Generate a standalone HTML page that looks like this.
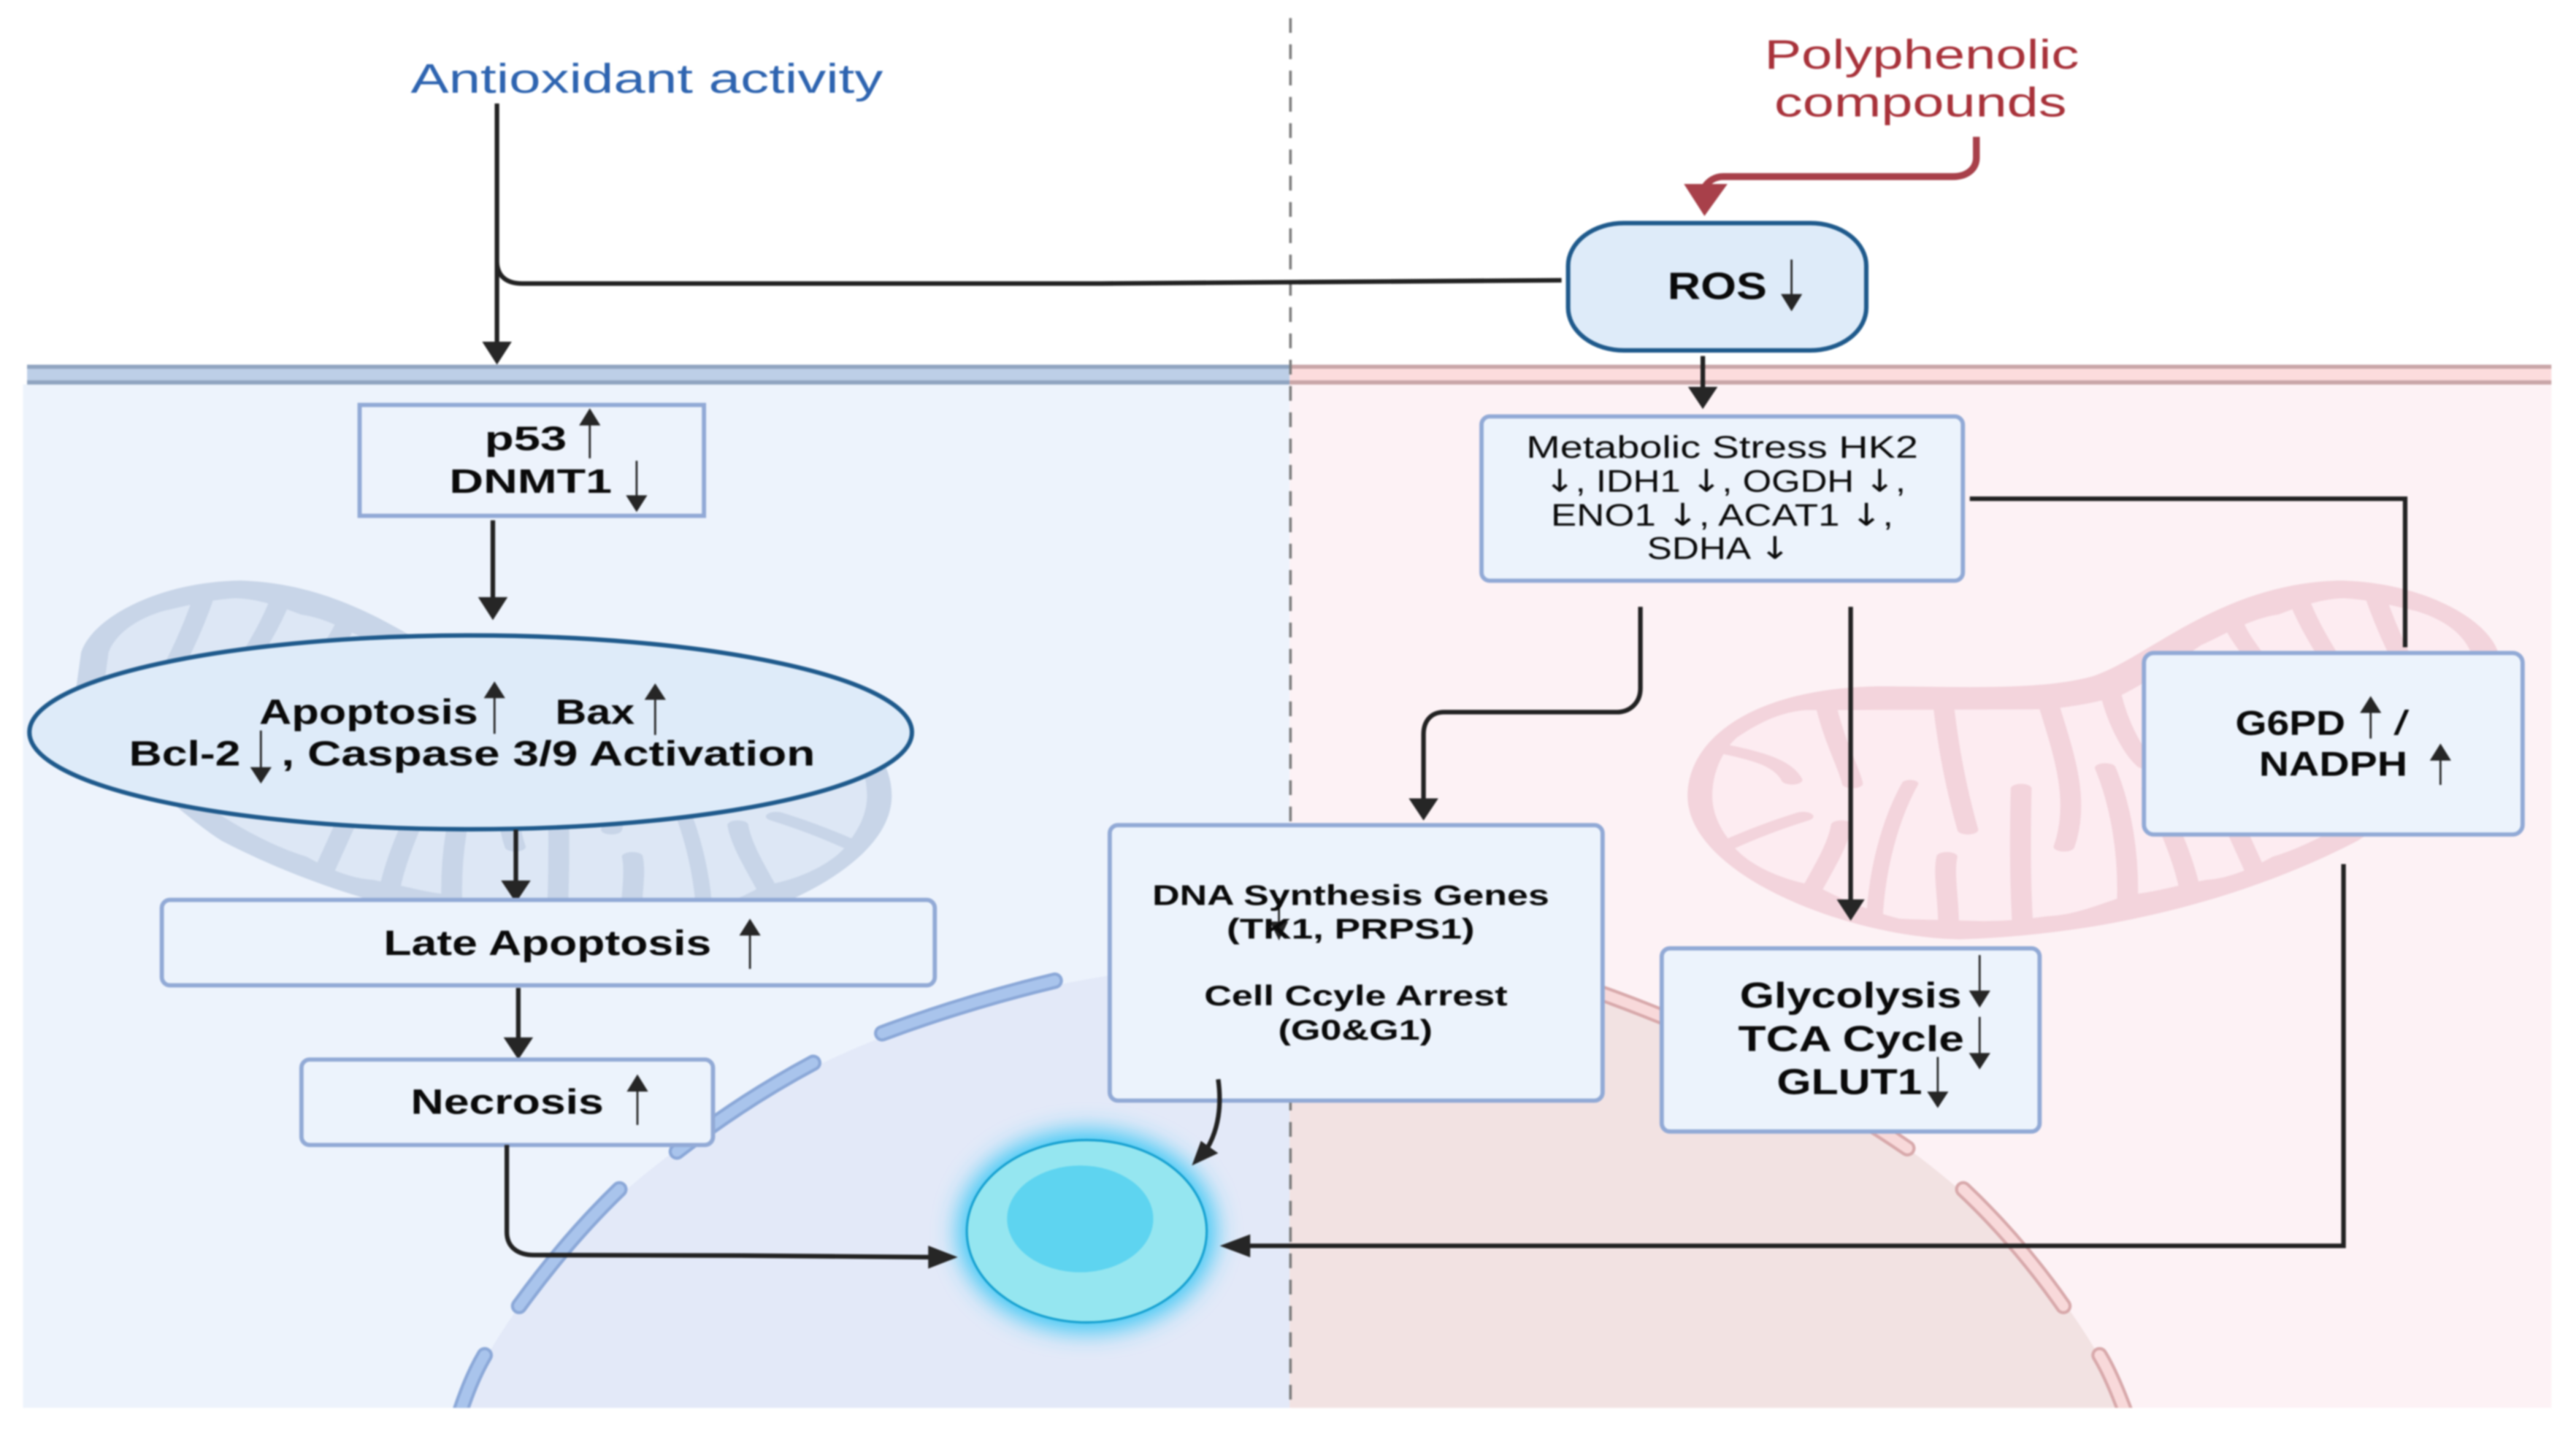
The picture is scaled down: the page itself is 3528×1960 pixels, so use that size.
<!DOCTYPE html>
<html lang="en">
<head>
<meta charset="utf-8">
<title>Polyphenolic compounds and antioxidant activity diagram</title>
<style>
html,body{margin:0;padding:0;background:#fff;width:3528px;height:1960px;overflow:hidden}
svg{display:block;filter:blur(1px)}
text{font-family:"Liberation Sans",sans-serif;fill:#0a0a0a}
.b{font-weight:bold}
.ln{fill:none;stroke:#222;stroke-width:2.8}
.th{fill:none;stroke:#222;stroke-width:1.2}
.hd{fill:#262626}
.box{fill:#ecf3fc;stroke:#92aad6;stroke-width:2.6}
.cr{fill:none;stroke:var(--o);stroke-linecap:round}
.ar{font-family:"DejaVu Sans",sans-serif}
</style>
</head>
<body>
<svg xmlns="http://www.w3.org/2000/svg" width="3528" height="1960" viewBox="0 0 1568 871.11">
<defs>
  <clipPath id="allC"><rect x="14" y="234" width="1539" height="623"/></clipPath>
  <filter id="glow" x="-40%" y="-40%" width="180%" height="180%"><feGaussianBlur stdDeviation="7.5"/></filter>
  <g id="mito">
    <g transform="translate(1022.2,346.7) scale(.3345,.1481)">
      <path fill="var(--o)" d="M15,930 C15,700 130,490 360,480 C500,480 650,500 750,440 C850,370 980,60 1200,45 C1350,50 1470,200 1490,340 L1500,500 C1430,800 1250,1100 1230,1120 C1050,1330 800,1500 510,1520 C300,1510 15,1250 15,930Z"/>
      <path fill="var(--i)" d="M60,930 C60,830 80,740 105,690 C150,620 190,585 230,578 L640,575 C700,575 760,545 800,520 C830,490 880,420 950,310 C990,270 1040,200 1090,185 C1130,150 1170,120 1210,118 C1260,125 1300,150 1340,170 C1400,210 1430,280 1440,340 L1450,500 C1400,800 1200,1100 1080,1180 C1040,1230 1000,1270 960,1275 C900,1300 860,1330 820,1335 C760,1380 720,1420 670,1425 C620,1440 590,1445 550,1445 C490,1440 440,1440 400,1435 C340,1400 280,1340 250,1300 C170,1270 110,1190 90,1110 C70,1050 60,990 60,930Z"/>
      <g class="cr" stroke-width="38">
        <path d="M85,740 C150,770 190,800 205,865"/>
        <path d="M90,1130 C150,1070 190,1040 225,1015"/>
        <path d="M265,540 C280,700 310,820 315,880"/>
        <path d="M240,1320 C270,1200 290,1120 295,1050"/>
        <path stroke-width="30" d="M355,1440 C360,1200 390,1000 420,880"/>
        <path d="M480,540 C490,760 510,950 525,1070"/>
        <path d="M490,1470 C490,1350 480,1250 487,1180"/>
        <path d="M625,1470 C620,1300 620,1100 622,900"/>
        <path d="M670,540 C700,760 730,950 700,1140"/>
        <path d="M815,1390 C820,1150 800,950 775,815"/>
        <path d="M785,510 C800,650 830,760 850,800"/>
        <path d="M930,1330 C920,1200 890,1050 860,900"/>
        <path d="M1050,1250 C1030,1150 1000,1000 980,900"/>
        <path d="M1010,230 C1020,280 1035,320 1050,370"/>
        <path d="M1125,110 C1140,200 1160,280 1185,370"/>
        <path d="M1265,100 C1280,200 1295,280 1315,370"/>
      </g>
    </g>
  </g>
</defs>

<!-- panels -->
<rect x="14" y="234" width="771" height="623" fill="#edf3fc"/>
<rect x="785" y="234" width="768" height="623" fill="#fdf2f5"/>

<!-- membrane -->
<rect x="16.5" y="222" width="768.5" height="12" fill="#bdcfe7"/>
<rect x="16.5" y="222" width="768.5" height="2.5" fill="#90a4c0"/>
<rect x="16.5" y="231.5" width="768.5" height="2.6" fill="#90a4c0"/>
<rect x="785" y="222" width="768" height="12" fill="#fcdcdd"/>
<rect x="785" y="222" width="768" height="2.5" fill="#c9a6a8"/>
<rect x="785" y="231.5" width="768" height="2.6" fill="#c9a6a8"/>

<!-- mitochondria -->
<g style="--o:#f3d4dc;--i:#fdecf1"><use href="#mito"/></g>
<g style="--o:#c8d5e8;--i:#dde7f5"><use href="#mito" transform="translate(1570,0) scale(-1,1)"/></g>

<!-- nucleus -->
<path d="M280.1,857 A535,400 0 0 1 785,585 V857Z" fill="#e3e9f8"/>
<path d="M785,585 A535,400 0 0 1 1293.9,857 H785Z" fill="#f2e2e2"/>

<g clip-path="url(#allC)" fill="none" stroke-linecap="round">
  <g stroke="#8ba8d8" stroke-width="10">
    <path d="M642,597 Q588,610 537,629"/>
    <path d="M495,647 Q452,670 412,701"/>
    <path d="M377,724 Q345,755 316,795"/>
    <path d="M295,825 Q286,840 278,866"/>
  </g>
  <g stroke="#a9c4ec" stroke-width="6.2">
    <path d="M642,597 Q588,610 537,629"/>
    <path d="M495,647 Q452,670 412,701"/>
    <path d="M377,724 Q345,755 316,795"/>
    <path d="M295,825 Q286,840 278,866"/>
  </g>
  <g stroke="#d8a9ab" stroke-width="10">
    <path d="M970,603 Q1075,640 1161,699"/>
    <path d="M1195,724 Q1228,755 1256,795"/>
    <path d="M1278,825 Q1286,838 1296,866"/>
  </g>
  <g stroke="#f8d9da" stroke-width="6.2">
    <path d="M970,603 Q1075,640 1161,699"/>
    <path d="M1195,724 Q1228,755 1256,795"/>
    <path d="M1278,825 Q1286,838 1296,866"/>
  </g>
</g>

<!-- dashed divider -->
<line x1="785.5" y1="11" x2="785.5" y2="856" stroke="#7c7c7c" stroke-width="1.6" stroke-dasharray="9 7"/>

<!-- cell -->
<ellipse cx="661.5" cy="749.5" rx="78" ry="61" fill="#35c6f4" filter="url(#glow)"/>
<ellipse cx="661.5" cy="749.5" rx="73" ry="55.5" fill="#95e6f0" stroke="#16a0d0" stroke-width="1.4"/>
<ellipse cx="657.5" cy="742" rx="44.5" ry="32.5" fill="#5ed4f0"/>

<!-- connector lines beneath boxes -->
<path class="ln" d="M302.5,63 V209"/>
<polygon class="hd" points="293.5,208 311.5,208 302.5,222"/>
<path class="ln" d="M302.5,160 C303,168 308,172.6 318,172.6 L670,172.6 L950.5,170.6"/>

<path d="M1203,83.3 V96 C1203,103 1197,107.5 1189,107.5 L1049,107.5 C1044,107.5 1040,110 1037.5,114" fill="none" stroke="#a8404a" stroke-width="4.2"/>
<polygon fill="#a8404a" points="1025,112 1051.5,112 1037.5,131.5"/>

<path class="ln" d="M1036.5,216.7 V236"/>
<polygon class="hd" points="1027.5,235.5 1045.5,235.5 1036.5,249"/>

<path class="ln" d="M300,316.7 V364"/>
<polygon class="hd" points="291,363.5 309,363.5 300,377.5"/>

<!-- boxes -->
<rect x="218.9" y="246.5" width="209.6" height="67.5" fill="#edf3fc" stroke="#92aad6" stroke-width="2.6"/>
<rect x="954.5" y="135.8" width="181.5" height="77.5" rx="34" ry="26" fill="#deebf9" stroke="#1f5a8c" stroke-width="2.7"/>
<rect class="box" x="901.8" y="253.5" width="293" height="100" rx="5"/>
<ellipse cx="286.5" cy="445.8" rx="268.6" ry="59" fill="#deebf9" stroke="#1f5a8c" stroke-width="2.7"/>
<path class="ln" d="M314,505 V537"/>
<polygon class="hd" points="305,536 323,536 314,549.5"/>

<rect class="box" x="98.5" y="547.8" width="470.5" height="52" rx="5"/>
<path class="ln" d="M315.5,601.4 V632"/>
<polygon class="hd" points="306.5,631.5 324.5,631.5 315.5,645"/>
<rect class="box" x="183.5" y="645" width="250.5" height="52" rx="5"/>
<rect class="box" x="675.5" y="502.3" width="300" height="167.7" rx="5"/>
<rect class="box" x="1011.5" y="577.3" width="230" height="111.5" rx="5"/>
<rect class="box" x="1305" y="397.5" width="230.5" height="110.5" rx="6"/>

<!-- connector lines over boxes -->
<path class="ln" d="M1199,303.6 H1464 V394"/>
<path class="ln" d="M998.5,369.4 V419 C998.5,428 992,433.5 984,433.5 H879 C871,433.5 866.5,439 866.5,447 V487"/>
<polygon class="hd" points="857.5,486 875.5,486 866.5,499.5"/>
<path class="ln" stroke-width="2.4" d="M1126.5,369.4 V548"/>
<polygon class="hd" points="1118,547.5 1135,547.5 1126.5,560.5"/>
<path class="ln" d="M308.5,697 V750 C308.5,759 315,764 325,764 L450,764.3 L566,765.3"/>
<polygon class="hd" points="565,758.3 565,772.3 583,765.3"/>
<path class="ln" d="M741.5,657 C744,675 741,690 733,702"/>
<polygon class="hd" points="725.5,709.5 731,694.5 741.5,702"/>
<path class="ln" d="M1426.5,526 V758.4 H760"/>
<polygon class="hd" points="742.5,758.4 761,751.4 761,765.4"/>

<!-- small arrows -->
<g>
  <path class="th" d="M359,279 V257"/><polygon class="hd" points="359,248.5 365.5,259 352.5,259"/>
  <path class="th" d="M387.5,280.5 V303"/><polygon class="hd" points="387.5,311.7 394,301.5 381,301.5"/>
  <path class="th" d="M1090.5,158 V181"/><polygon class="hd" points="1090.5,189.5 1097,179 1084,179"/>
  <path class="th" d="M301,446.7 V424"/><polygon class="hd" points="301,414.8 307.5,425 294.5,425"/>
  <path class="th" d="M398.8,447.4 V425"/><polygon class="hd" points="398.8,416 405.3,426 392.3,426"/>
  <path class="th" d="M158.8,444.7 V468"/><polygon class="hd" points="158.8,477 165.3,467 152.3,467"/>
  <path class="th" d="M456.5,589.8 V568"/><polygon class="hd" points="456.5,559.2 463,569.5 450,569.5"/>
  <path class="th" d="M388,684.8 V663"/><polygon class="hd" points="388,654 394.5,664.5 381.5,664.5"/>
  <path class="th" d="M778.5,546.6 V566"/><polygon class="hd" points="778.5,572.5 784,561 773,561"/>
  <path class="th" d="M1205,581.4 V604"/><polygon class="hd" points="1205,613.4 1211.5,603 1198.5,603"/>
  <path class="th" d="M1205,619 V642"/><polygon class="hd" points="1205,651 1211.5,641 1198.5,641"/>
  <path class="th" d="M1179.5,643.4 V666"/><polygon class="hd" points="1179.5,674.5 1186,664.5 1173,664.5"/>
  <path class="th" d="M1443,449.6 V432"/><polygon class="hd" points="1443,423.7 1449.5,434 1436.5,434"/>
  <path class="th" d="M1485.5,477.8 V461"/><polygon class="hd" points="1485.5,452.6 1492,463 1479,463"/>
</g>

<!-- labels -->
<text x="250" y="56.5" font-size="25" textLength="287.5" lengthAdjust="spacingAndGlyphs" style="fill:#2e64b0">Antioxidant activity</text>
<text x="1074" y="41.7" font-size="25" textLength="191.5" lengthAdjust="spacingAndGlyphs" style="fill:#a8323a">Polyphenolic</text>
<text x="1080" y="70.8" font-size="25" textLength="178" lengthAdjust="spacingAndGlyphs" style="fill:#a8323a">compounds</text>

<text class="b" x="1015" y="182" font-size="23" textLength="60.5" lengthAdjust="spacingAndGlyphs">ROS</text>
<text class="b" x="295" y="274" font-size="20.5" textLength="50" lengthAdjust="spacingAndGlyphs">p53</text>
<text class="b" x="273.5" y="300" font-size="20.5" textLength="99" lengthAdjust="spacingAndGlyphs">DNMT1</text>

<text x="929" y="278.6" font-size="19" textLength="238.5" lengthAdjust="spacingAndGlyphs">Metabolic Stress HK2</text>
<text x="940" y="299.4" font-size="19" textLength="220" lengthAdjust="spacingAndGlyphs"><tspan class="ar">↓</tspan>, IDH1 <tspan class="ar">↓</tspan>, OGDH <tspan class="ar">↓</tspan>,</text>
<text x="944" y="320" font-size="19" textLength="208.5" lengthAdjust="spacingAndGlyphs">ENO1 <tspan class="ar">↓</tspan>, ACAT1 <tspan class="ar">↓</tspan>,</text>
<text x="1002.5" y="340.3" font-size="19" textLength="87.5" lengthAdjust="spacingAndGlyphs">SDHA <tspan class="ar">↓</tspan></text>

<text class="b" x="157.8" y="440.7" font-size="21.5" textLength="133.2" lengthAdjust="spacingAndGlyphs">Apoptosis</text>
<text class="b" x="338" y="440.7" font-size="21.5" textLength="48.3" lengthAdjust="spacingAndGlyphs">Bax</text>
<text class="b" x="78.5" y="466" font-size="21.5" textLength="67.9" lengthAdjust="spacingAndGlyphs">Bcl-2</text>
<text class="b" x="171.3" y="466" font-size="21.5" textLength="324.9" lengthAdjust="spacingAndGlyphs">, Caspase 3/9 Activation</text>

<text class="b" x="233.5" y="581.4" font-size="21.5" textLength="199.5" lengthAdjust="spacingAndGlyphs">Late Apoptosis</text>
<text class="b" x="250" y="678" font-size="21.5" textLength="117.5" lengthAdjust="spacingAndGlyphs">Necrosis</text>

<text class="b" x="701.4" y="550.8" font-size="17.5" textLength="241.6" lengthAdjust="spacingAndGlyphs">DNA Synthesis Genes</text>
<text class="b" x="746.7" y="571.4" font-size="17.5" textLength="150.9" lengthAdjust="spacingAndGlyphs">(TK1, PRPS1)</text>
<text class="b" x="733" y="612" font-size="17.5" textLength="184.6" lengthAdjust="spacingAndGlyphs">Cell Ccyle Arrest</text>
<text class="b" x="778" y="632.8" font-size="17.5" textLength="94" lengthAdjust="spacingAndGlyphs">(G0&amp;G1)</text>

<text class="b" x="1059" y="613.4" font-size="22" textLength="135" lengthAdjust="spacingAndGlyphs">Glycolysis</text>
<text class="b" x="1058" y="639.8" font-size="22" textLength="137.5" lengthAdjust="spacingAndGlyphs">TCA Cycle</text>
<text class="b" x="1081.5" y="666" font-size="22" textLength="88.5" lengthAdjust="spacingAndGlyphs">GLUT1</text>

<text class="b" x="1360.7" y="447.4" font-size="21" textLength="66.9" lengthAdjust="spacingAndGlyphs">G6PD</text>
<text x="1457" y="447.4" font-size="21" textLength="9.4" lengthAdjust="spacingAndGlyphs">/</text>
<text class="b" x="1375" y="472.3" font-size="21" textLength="90.4" lengthAdjust="spacingAndGlyphs">NADPH</text>
</svg>
</body>
</html>
